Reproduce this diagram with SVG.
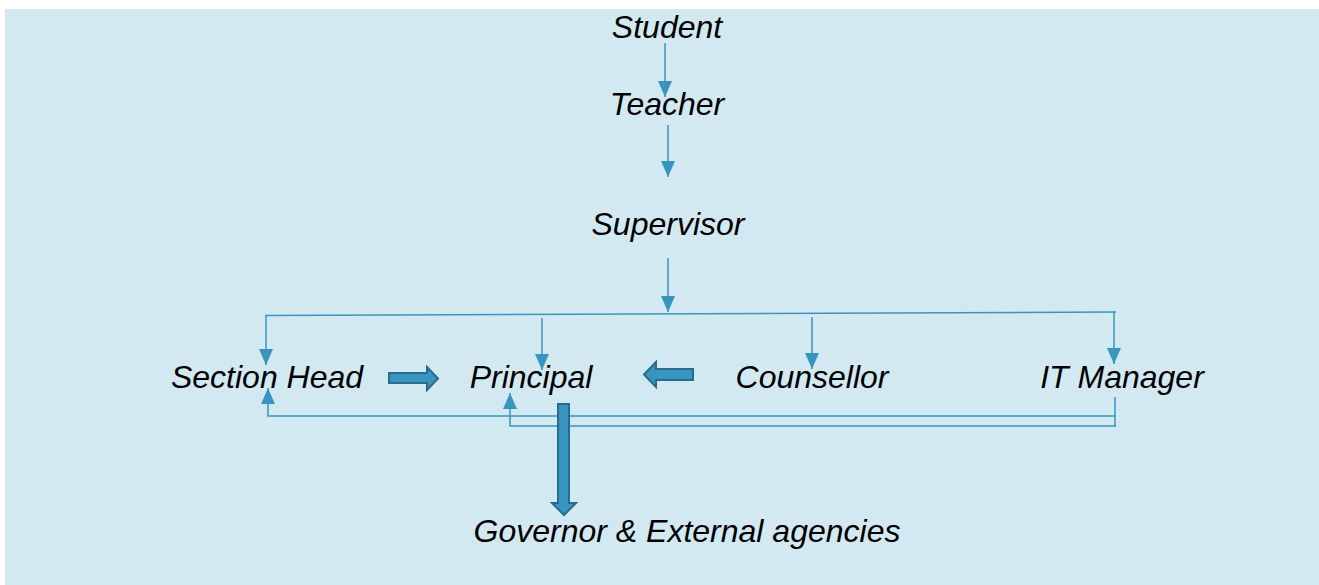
<svg xmlns="http://www.w3.org/2000/svg" width="1319" height="585" viewBox="0 0 1319 585">
  <defs>
    <marker id="tri" viewBox="0 0 16 14" refX="16" refY="7" markerWidth="16" markerHeight="14" markerUnits="userSpaceOnUse" orient="auto">
      <path d="M0,0 L16,7 L0,14 Z" fill="#3795bf"/>
    </marker>
    <style>
      .lbl { font-family: "Liberation Sans", Arial, sans-serif; font-style: italic; font-size: 32px; fill: #000; text-anchor: middle; }
      .ln { fill: none; stroke: #3795bf; stroke-width: 1.5; }
      .arr { marker-end: url(#tri); }
      .blk { fill: #3795bf; stroke: #276c8c; stroke-width: 2; stroke-linejoin: miter; }
    </style>
  </defs>

  <rect x="0" y="0" width="1319" height="585" fill="#ffffff"/>
  <rect x="5" y="9" width="1314" height="576" fill="#d3e9f2"/>

  <g id="connectors">
    <!-- chain down the middle -->
    <line class="ln arr" x1="665" y1="43" x2="665" y2="97"/>
    <line class="ln arr" x1="668" y1="125" x2="668" y2="177"/>
    <line class="ln arr" x1="668" y1="258" x2="668" y2="312"/>
    <!-- distribution bus -->
    <line class="ln" x1="265" y1="315.5" x2="1116" y2="312"/>
    <line class="ln arr" x1="266" y1="315" x2="266" y2="365"/>
    <line class="ln arr" x1="542" y1="318" x2="542" y2="370"/>
    <line class="ln arr" x1="812" y1="317" x2="812" y2="369"/>
    <line class="ln arr" x1="1114" y1="312" x2="1114" y2="364"/>
    <!-- IT Manager returns -->
    <line class="ln" x1="1115" y1="397" x2="1115" y2="427"/>
    <polyline class="ln arr" points="1115,416 268,416 268,388"/>
    <polyline class="ln arr" points="1115,426 510,426 510,393"/>
    <!-- block arrows -->
    <path class="blk" d="M389,373 L427,373 L427,367 L438,378.5 L427,390 L427,383 L389,383 Z"/>
    <path class="blk" d="M693,369 L656,369 L656,362 L644,374.5 L656,387 L656,380 L693,380 Z"/>
    <path class="blk" d="M558,404 L569,404 L569,503 L576,503 L564,515 L552,503 L558,503 Z"/>
  </g>

  <g id="student"><text class="lbl" x="667" y="38">Student</text></g>
  <g id="teacher"><text class="lbl" x="667" y="115">Teacher</text></g>
  <g id="supervisor"><text class="lbl" x="668" y="235">Supervisor</text></g>
  <g id="section-head"><text class="lbl" x="267" y="388">Section Head</text></g>
  <g id="principal"><text class="lbl" x="531" y="388">Principal</text></g>
  <g id="counsellor"><text class="lbl" x="812" y="388">Counsellor</text></g>
  <g id="it-manager"><text class="lbl" x="1122" y="388">IT Manager</text></g>
  <g id="governor"><text class="lbl" x="687" y="542">Governor &amp; External agencies</text></g>
</svg>
